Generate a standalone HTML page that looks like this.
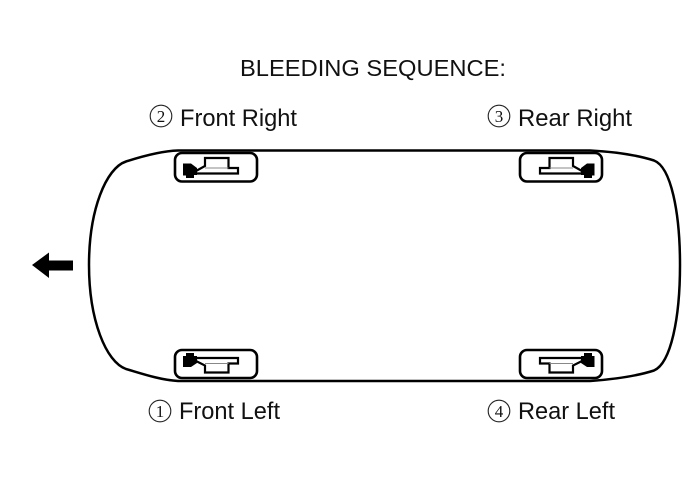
<!DOCTYPE html>
<html>
<head>
<meta charset="utf-8">
<title>Bleeding Sequence</title>
<style>
html,body{margin:0;padding:0;background:#fff;width:694px;height:486px;overflow:hidden}
svg{display:block}
.t{font-family:"Liberation Sans",sans-serif;fill:#111}
.n{font-family:"Liberation Serif",serif;font-size:17px;fill:#111;text-anchor:middle}
.c{fill:none;stroke:#222;stroke-width:1.1}
.box{fill:#fff;stroke:#000;stroke-width:2.600}
.hat{fill:#fff;stroke:#000;stroke-width:2.200;stroke-linejoin:miter}
</style>
</head>
<body>
<svg width="694" height="486" viewBox="0 0 694 486" xmlns="http://www.w3.org/2000/svg">
<rect width="694" height="486" fill="#fff"/>

<text class="t" x="240" y="76" font-size="23" textLength="266" lengthAdjust="spacingAndGlyphs">BLEEDING SEQUENCE:</text>

<circle class="c" cx="161" cy="116" r="10.8"/><text class="n" x="161" y="122">2</text>
<text class="t" x="180" y="126" font-size="24" textLength="117" lengthAdjust="spacingAndGlyphs">Front Right</text>

<circle class="c" cx="499" cy="116" r="10.8"/><text class="n" x="499" y="122">3</text>
<text class="t" x="518" y="126" font-size="24" textLength="114" lengthAdjust="spacingAndGlyphs">Rear Right</text>

<circle class="c" cx="160" cy="411" r="10.8"/><text class="n" x="160" y="417">1</text>
<text class="t" x="179" y="419" font-size="24" textLength="101" lengthAdjust="spacingAndGlyphs">Front Left</text>

<circle class="c" cx="499" cy="411" r="10.8"/><text class="n" x="499" y="417">4</text>
<text class="t" x="518" y="419" font-size="24" textLength="97" lengthAdjust="spacingAndGlyphs">Rear Left</text>

<!-- car body -->
<path d="M178 150.500 L590 150.500 C618 152 640 156 654 160.500 C671 167 680 212 680 265 C680 318 671 363 654 370.500 C640 375 618 379 590 381 L178 381 C160 380 140 373 126 369 C106 362 89 320 89 265 C89 210 106 168 126 161.500 C140 157 160 151 178 150.500 Z" fill="none" stroke="#000" stroke-width="2.500"/>

<!-- direction arrow -->
<path d="M32 265 L49 252.500 V260.500 H73 V270.500 H49 V278 Z" fill="#000"/>

<!-- wheel: front right -->
<rect class="box" x="175" y="153" width="82" height="28.500" rx="7"/>
<path class="hat" d="M196 171 L205 166 V158 H228.500 V168 H238 V173.500 H196 Z"/>
<path d="M205 168 H228.500" stroke="#888" stroke-width="1"/>
<path d="M183 163.500 H191 L197 168 V175 H194 V178 H186 V175.500 H183 Z" fill="#000"/>

<!-- wheel: rear right -->
<rect class="box" x="520" y="153" width="82" height="28.500" rx="7"/>
<path class="hat" d="M582 171 L573 166 V158 H549.500 V168 H540 V173.500 H582 Z"/>
<path d="M573 168 H549.500" stroke="#888" stroke-width="1"/>
<path d="M594.500 163.500 H587 L581 168 V175 H584 V178 H592 V175.500 H594.500 Z" fill="#000"/>

<!-- wheel: front left -->
<rect class="box" x="175" y="350" width="82" height="28" rx="7"/>
<path class="hat" d="M196 361 L205 365.500 V372.500 H228.500 V363.500 H238 V358 H196 Z"/>
<path d="M205 363.500 H228.500" stroke="#888" stroke-width="1"/>
<path d="M183 367 H191 L197 363 V356 H194 V353 H186 V356 H183 Z" fill="#000"/>

<!-- wheel: rear left -->
<rect class="box" x="520" y="350" width="82" height="28" rx="7"/>
<path class="hat" d="M582 361 L573 365.500 V372.500 H549.500 V363.500 H540 V358 H582 Z"/>
<path d="M573 363.500 H549.500" stroke="#888" stroke-width="1"/>
<path d="M594.500 367 H587 L581 363 V356 H584 V353 H592 V356 H594.500 Z" fill="#000"/>
</svg>
</body>
</html>
